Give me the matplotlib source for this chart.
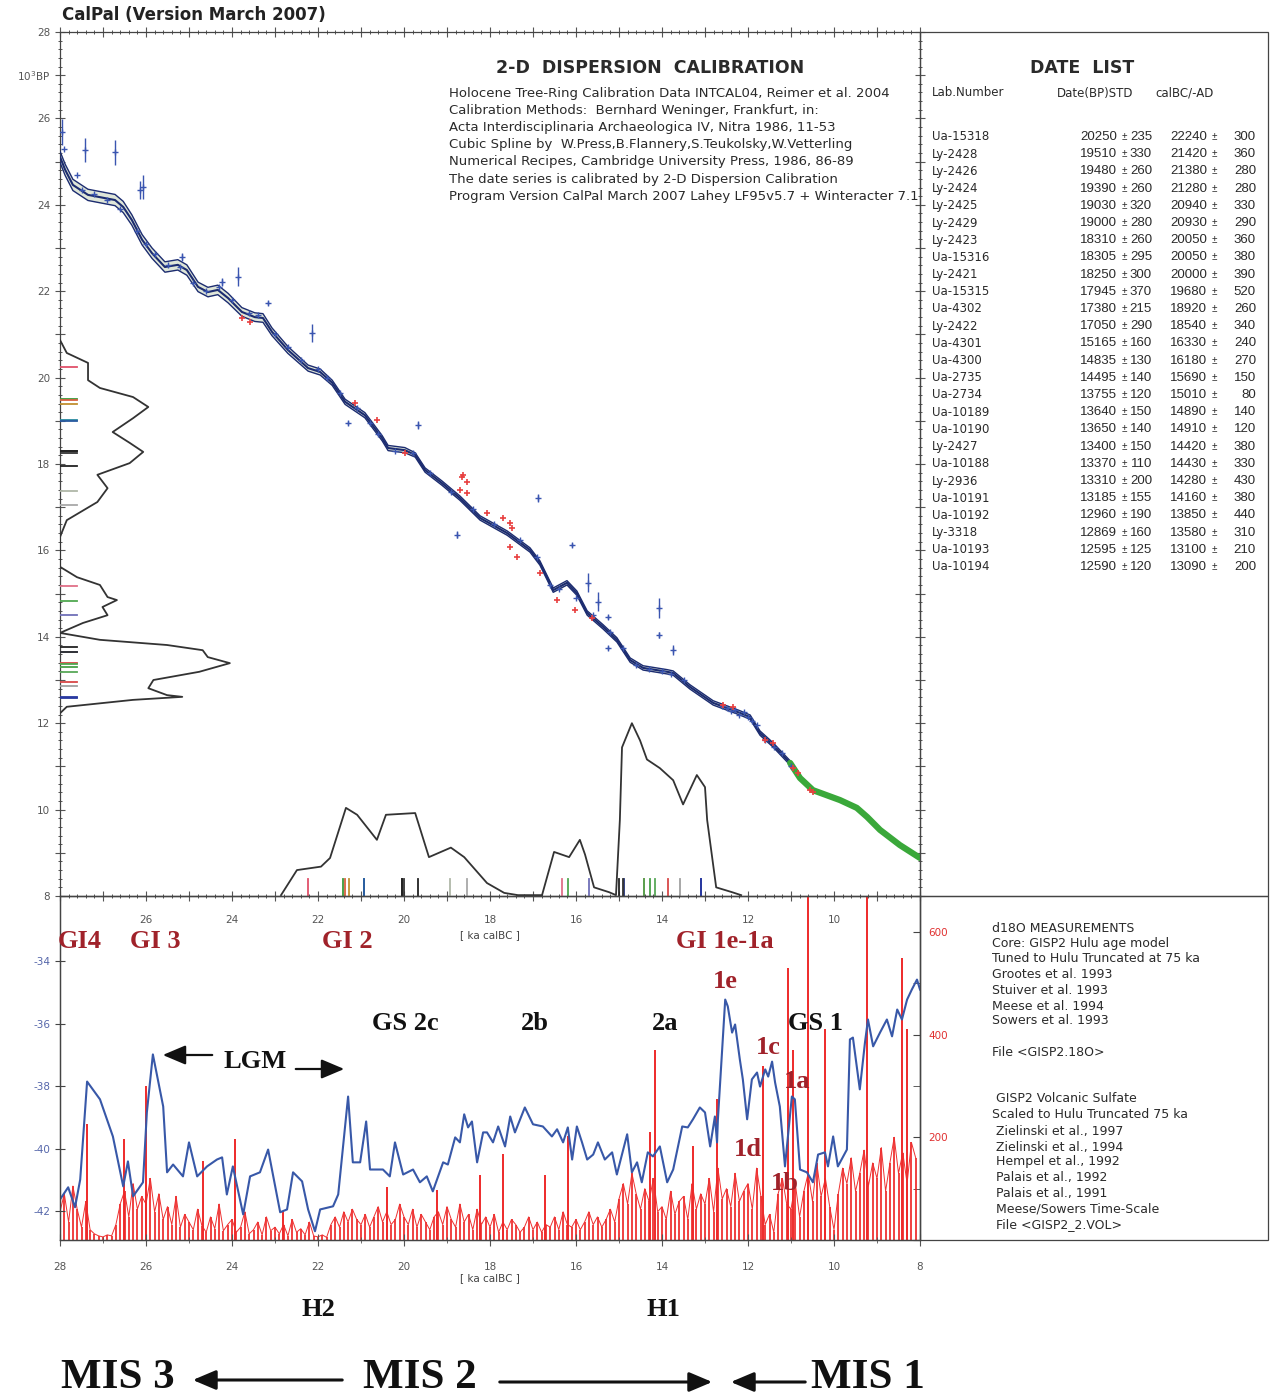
import numpy as np
import matplotlib
matplotlib.use("Agg")
import matplotlib.pyplot as plt
from matplotlib.patches import Rectangle, FancyArrowPatch
from matplotlib.ticker import MultipleLocator, FuncFormatter, FixedLocator

# ---------------- DATA ----------------
# Date list
lab_numbers = ["Ua-15318", "Ly-2428", "Ly-2426", "Ly-2424", "Ly-2425", "Ly-2429", "Ly-2423",
               "Ua-15316", "Ly-2421", "Ua-15315", "Ua-4302", "Ly-2422", "Ua-4301", "Ua-4300",
               "Ua-2735", "Ua-2734", "Ua-10189", "Ua-10190", "Ly-2427", "Ua-10188", "Ly-2936",
               "Ua-10191", "Ua-10192", "Ly-3318", "Ua-10193", "Ua-10194"]
dates_bp = [20250, 19510, 19480, 19390, 19030, 19000, 18310, 18305, 18250, 17945, 17380, 17050,
            15165, 14835, 14495, 13755, 13640, 13650, 13400, 13370, 13310, 13185, 12960, 12869,
            12595, 12590]
dates_bp_std = [235, 330, 260, 260, 320, 280, 260, 295, 300, 370, 215, 290, 160, 130, 140, 120,
                150, 140, 150, 110, 200, 155, 190, 160, 125, 120]
cal_bc = [22240, 21420, 21380, 21280, 20940, 20930, 20050, 20050, 20000, 19680, 18920, 18540,
          16330, 16180, 15690, 15010, 14890, 14910, 14420, 14430, 14280, 14160, 13850, 13580,
          13100, 13090]
cal_bc_std = [300, 360, 280, 280, 330, 290, 360, 380, 390, 520, 260, 340, 240, 270, 150, 80,
              140, 120, 380, 330, 430, 380, 440, 310, 210, 200]
sample_colors = ["#e0506a", "#3a9a3a", "#d86040", "#c09030", "#2a8aa0", "#2a5aa0", "#222222",
                 "#222222", "#333333", "#222222", "#b0b8a8", "#a8a8a8", "#e07088", "#50a850",
                 "#7070b8", "#222222", "#25357a", "#333333", "#d84848", "#50a850", "#48a048",
                 "#58a858", "#d84848", "#a0a0a0", "#2838a0", "#2838a0"]

# Calibration curve (ka calBC, 10^3 BP, 1-sigma band)
curve_cal = [28.00, 27.88, 27.70, 27.35, 26.72, 26.53, 26.33, 26.09, 25.86, 25.56, 25.26, 25.05,
             24.79, 24.56, 24.33, 24.09, 23.77, 23.47, 23.28, 23.07, 22.70, 22.23, 21.95, 21.67,
             21.37, 20.91, 20.51, 20.37, 19.98, 19.74, 19.51, 19.12, 18.70, 18.23, 17.60, 17.07,
             16.84, 16.53, 16.21, 15.98, 15.74, 15.37, 15.05, 14.74, 14.44, 13.88, 13.74, 13.35,
             12.81, 12.19, 11.95, 11.72, 11.42, 11.02, 10.79]
curve_bp = [25.11, 24.81, 24.46, 24.23, 24.11, 23.95, 23.65, 23.19, 22.88, 22.56, 22.61, 22.49,
            22.10, 21.98, 22.03, 21.84, 21.52, 21.40, 21.38, 21.06, 20.64, 20.22, 20.13, 19.88,
            19.44, 19.13, 18.60, 18.37, 18.32, 18.21, 17.86, 17.56, 17.21, 16.75, 16.40, 16.01,
            15.71, 15.08, 15.25, 15.01, 14.55, 14.23, 13.93, 13.46, 13.28, 13.19, 13.16, 12.84,
            12.47, 12.24, 12.14, 11.77, 11.50, 11.08, 10.73]
curve_sigma = [0.13, 0.13, 0.13, 0.13, 0.13, 0.13, 0.12, 0.12, 0.12, 0.12, 0.12, 0.12, 0.11,
               0.11, 0.11, 0.11, 0.10, 0.10, 0.10, 0.09, 0.08, 0.07, 0.07, 0.06, 0.06, 0.06,
               0.06, 0.06, 0.06, 0.05, 0.05, 0.05, 0.05, 0.05, 0.05, 0.05, 0.05, 0.05, 0.05,
               0.05, 0.05, 0.05, 0.05, 0.05, 0.05, 0.05, 0.05, 0.05, 0.05, 0.05, 0.05, 0.05,
               0.05, 0.05, 0.05]
# INTCAL04 tree-ring part (green)
intcal_cal = [11.02, 10.79, 10.49, 9.86, 9.47, 9.23, 8.93, 8.47, 8.00]
intcal_bp = [11.08, 10.73, 10.45, 10.22, 10.04, 9.83, 9.53, 9.18, 8.88]

# Calibration data points with error bars (blue)
blue_err_cal = [27.95, 27.42, 26.72, 26.07, 26.14, 25.16, 23.86, 23.16, 22.14, 21.30, 19.67,
                16.88, 18.77, 16.09, 15.72, 15.49, 14.07, 14.07, 13.74, 15.26, 15.26, 24.23]
blue_err_bp = [25.69, 25.27, 25.22, 24.41, 24.34, 22.79, 22.33, 21.73, 21.03, 18.95, 18.90,
               17.21, 16.36, 16.13, 15.25, 14.81, 14.67, 14.04, 13.69, 14.46, 13.74, 22.21]
blue_err_sd = [0.30, 0.28, 0.29, 0.27, 0.20, 0.10, 0.22, 0.05, 0.20, 0.05, 0.10, 0.10, 0.08,
               0.05, 0.22, 0.22, 0.23, 0.06, 0.12, 0.05, 0.05, 0.10]
# Calibration data points near the curve (blue)
blue_cal = [27.9, 27.6, 27.5, 27.2, 26.9, 26.6, 26.2, 26.0, 25.8, 25.5, 25.2, 24.9, 24.6, 24.3,
            24.0, 23.6, 23.4, 23.0, 22.7, 22.4, 22.0, 21.8, 21.5, 21.1, 20.8, 20.6, 20.2, 19.8,
            19.4, 18.9, 18.4, 17.9, 17.3, 16.9, 16.6, 16.4, 16.0, 15.6, 15.2, 14.9, 14.6, 14.3,
            14.0, 13.8, 13.5, 12.6, 12.5, 12.4, 12.3, 12.2, 12.1, 12.0, 11.9, 11.8, 11.6, 11.4,
            11.2, 11.0]
blue_bp = [25.30, 24.70, 24.35, 24.25, 24.10, 23.90, 23.40, 23.10, 22.85, 22.60, 22.55, 22.20,
           22.00, 22.10, 21.80, 21.50, 21.45, 21.00, 20.70, 20.40, 20.20, 20.00, 19.65, 19.30,
           18.95, 18.70, 18.30, 18.25, 17.80, 17.35, 16.95, 16.60, 16.25, 15.85, 15.20, 15.10,
           14.90, 14.50, 14.10, 13.75, 13.35, 13.25, 13.20, 13.15, 13.00, 12.40, 12.35, 12.28,
           12.30, 12.20, 12.25, 12.15, 12.05, 11.95, 11.60, 11.45, 11.30, 11.00]
# Calibration data points (red)
red_cal = [23.77, 23.58, 21.14, 20.63, 19.98, 18.65, 18.63, 18.53, 18.70, 18.53, 18.07, 17.70,
           17.53, 17.49, 17.53, 17.37, 16.84, 16.44, 16.02, 15.63, 12.58, 12.35, 11.60, 11.42,
           10.95, 10.84, 10.56, 10.49]
red_bp = [21.38, 21.29, 19.41, 19.02, 18.25, 17.70, 17.75, 17.58, 17.40, 17.33, 16.87, 16.75,
          16.63, 16.52, 16.08, 15.85, 15.48, 14.85, 14.62, 14.44, 12.42, 12.38, 11.61, 11.54,
          10.96, 10.85, 10.45, 10.41]

# Summed probability of 14C dates (left, relative)
bp_density_y = [20.87, 20.57, 20.34, 19.94, 19.76, 19.55, 19.32, 19.06, 18.74, 18.49, 18.28,
                18.02, 17.75, 17.44, 17.12, 16.70, 16.31, 15.62, 15.38, 15.20, 14.92, 14.85,
                14.69, 14.50, 14.32, 14.09, 13.93, 13.81, 13.69, 13.53, 13.39, 13.19, 13.00,
                12.81, 12.65, 12.61, 12.54, 12.38, 12.23]
bp_density = [0.0, 0.04, 0.165, 0.165, 0.235, 0.43, 0.52, 0.43, 0.31, 0.41, 0.49, 0.41, 0.22,
              0.28, 0.22, 0.04, 0.0, 0.0, 0.10, 0.235, 0.28, 0.335, 0.25, 0.28, 0.135, 0.0,
              0.235, 0.63, 0.84, 0.87, 1.0, 0.82, 0.55, 0.52, 0.63, 0.72, 0.43, 0.04, 0.0]
# Summed calibrated probability (bottom, relative)
cal_density_x = [22.86, 22.49, 21.93, 21.72, 21.35, 21.09, 20.63, 20.42, 19.74, 19.42, 18.91,
                 18.60, 18.07, 17.67, 17.35, 16.79, 16.51, 16.16, 15.91, 15.79, 15.58, 15.23,
                 15.07, 14.98, 14.93, 14.70, 14.51, 14.35, 14.05, 13.74, 13.51, 13.19, 13.00,
                 12.95, 12.74, 12.37, 12.16]
cal_density = [0.005, 0.15, 0.17, 0.22, 0.51, 0.47, 0.325, 0.47, 0.48, 0.225, 0.28, 0.225,
               0.075, 0.018, 0.005, 0.005, 0.255, 0.225, 0.325, 0.24, 0.05, 0.022, 0.005, 0.44,
               0.86, 1.0, 0.90, 0.79, 0.74, 0.67, 0.53, 0.70, 0.63, 0.44, 0.05, 0.022, 0.005]

# GISP2 d18O (ka calBC, permil)
d18o_age = [28.00, 27.81, 27.65, 27.53, 27.37, 27.07, 26.77, 26.53, 26.42, 26.30, 26.07, 25.98,
            25.84, 25.60, 25.51, 25.37, 25.14, 25.00, 24.81, 24.58, 24.35, 24.23, 24.12, 23.98,
            23.74, 23.58, 23.35, 23.16, 22.88, 22.72, 22.58, 22.37, 22.23, 22.07, 21.95, 21.65,
            21.53, 21.30, 21.19, 21.02, 20.88, 20.79, 20.49, 20.33, 20.21, 20.02, 19.79, 19.63,
            19.47, 19.33, 19.09, 18.98, 18.81, 18.70, 18.60, 18.51, 18.42, 18.30, 18.16, 18.07,
            17.93, 17.81, 17.65, 17.53, 17.42, 17.19, 17.00, 16.77, 16.56, 16.44, 16.30, 16.19,
            16.09, 15.98, 15.86, 15.74, 15.60, 15.49, 15.33, 15.16, 15.05, 14.81, 14.70, 14.58,
            14.47, 14.33, 14.21, 14.05, 13.88, 13.74, 13.53, 13.40, 13.28, 13.12, 13.00, 12.88,
            12.77, 12.72, 12.70, 12.53, 12.47, 12.37, 12.30, 12.19, 12.12, 12.02, 11.91, 11.79,
            11.72, 11.60, 11.53, 11.44, 11.37, 11.26, 11.14, 10.98, 10.91, 10.79, 10.63, 10.49,
            10.37, 10.21, 10.14, 10.02, 9.91, 9.70, 9.63, 9.56, 9.40, 9.28, 9.21, 9.09, 8.93,
            8.77, 8.65, 8.53, 8.42, 8.30, 8.19, 8.07, 8.00]
d18o_val = [-41.63, -41.24, -41.88, -40.99, -37.85, -38.42, -39.61, -41.21, -40.41, -41.53,
            -41.08, -38.84, -36.98, -38.65, -40.76, -40.51, -40.89, -39.80, -40.89, -40.57,
            -40.35, -40.28, -41.47, -40.57, -42.11, -40.89, -40.76, -40.03, -42.04, -41.95,
            -40.76, -41.05, -41.95, -42.65, -41.95, -41.85, -41.47, -38.33, -40.44, -40.44,
            -39.13, -40.67, -40.67, -40.89, -39.80, -40.83, -40.67, -41.08, -40.89, -41.37,
            -40.44, -40.51, -39.64, -39.80, -38.90, -39.32, -39.13, -40.44, -39.48, -39.48,
            -39.80, -39.29, -39.93, -38.97, -39.48, -38.68, -39.22, -39.29, -39.61, -39.38,
            -39.80, -39.32, -40.35, -39.29, -39.80, -40.35, -40.19, -39.80, -40.35, -40.12,
            -40.83, -39.54, -40.76, -40.44, -41.08, -40.12, -40.25, -39.93, -41.08, -40.67,
            -39.29, -39.32, -39.06, -38.68, -38.84, -39.93, -38.97, -39.80, -39.06, -35.22,
            -35.44, -36.28, -36.02, -37.14, -37.78, -39.06, -37.78, -37.56, -38.01, -37.46,
            -37.69, -37.21, -37.88, -38.65, -40.57, -38.33, -38.42, -40.67, -40.76, -41.08,
            -40.19, -40.12, -40.57, -39.61, -40.57, -40.03, -36.50, -36.44, -38.10, -36.60,
            -35.86, -36.72, -36.28, -35.86, -36.40, -35.54, -35.86, -35.22, -34.90, -34.58,
            -34.90]

# GISP2 volcanic sulfate: background series (28.0 -> 8.1 ka, step 0.1) and large events
sulfate_start, sulfate_step = 28.0, 0.1
sulfate_bg = [55, 90, 35, 105, 60, 25, 75, 20, 12, 8,
              6, 10, 8, 30, 70, 95, 45, 110, 60, 85,
              70, 120, 55, 90, 40, 65, 30, 85, 25, 50,
              35, 20, 60, 28, 15, 45, 22, 70, 18, 30,
              40, 15, 25, 55, 12, 20, 35, 10, 45, 18,
              25, 12, 30, 8, 40, 15, 22, 10, 35, 8,
              6, 10, 5, 30, 45, 25, 55, 35, 60, 40,
              30, 50, 25, 45, 65, 35, 55, 30, 40, 70,
              45, 30, 60, 25, 50, 35, 20, 45, 55, 30,
              65, 40, 25, 70, 35, 50, 20, 60, 30, 45,
              25, 50, 15, 35, 20, 40, 30, 15, 25, 45,
              20, 35, 15, 30, 25, 45, 20, 55, 30, 25,
              40, 20, 35, 55, 30, 45, 25, 40, 60, 35,
              80, 110, 70, 130, 90, 60, 100, 75, 120, 55,
              65, 40, 95, 50, 75, 85, 40, 110, 60, 90,
              70, 120, 55, 140, 80, 100, 65, 130, 75, 95,
              110, 60, 140, 85, 30, 50, 15, 90, 120, 70,
              60, 110, 45, 95, 130, 75, 150, 85, 120, 65,
              20, 90, 140, 110, 160, 95, 130, 175, 105, 150,
              120, 180, 95, 150, 200, 130, 170, 110, 190, 160]
sulfate_event_age = [27.37, 26.51, 26.00, 24.67, 23.93, 22.81, 20.40, 19.23, 18.23, 17.69,
                     16.72, 16.19, 14.28, 14.16, 13.28, 12.72, 11.65, 11.07, 10.95, 10.60,
                     10.21, 9.23, 8.42, 8.30]
sulfate_event_val = [226, 197, 300, 153, 197, 56, 104, 97, 126, 168, 126, 203, 211, 371, 184,
                     274, 338, 529, 371, 700, 410, 700, 549, 410]

# ---------------- FIGURE ----------------
W, H = 1271, 1395
fig = plt.figure(figsize=(W / 100, H / 100), dpi=100)
fx = lambda px: px / W
fy = lambda py: 1 - py / H

SANS = "DejaVu Sans"
NUM = "Liberation Sans"
SERIF = "Liberation Serif"
TXT = "#2a2a2a"
TICKC = "#555555"

ax1 = fig.add_axes([fx(60), fy(896), fx(920) - fx(60), fy(32) - fy(896)])
ax2 = fig.add_axes([fx(60), fy(1240), fx(920) - fx(60), fy(896) - fy(1240)])
ax2r = ax2.twinx()

# ---- top panel ----
ax1.set_xlim(28, 8)
ax1.set_ylim(8, 28)
cc = np.array(curve_cal)
cb = np.array(curve_bp)
cs = np.array(curve_sigma)
band_col = "#1c2c70"
ax1.fill_between(cc, cb - cs, cb + cs, color="#dfe6d8", lw=0, zorder=2)
for off, lw in [(-1, 1.0), (0, 1.5), (1, 1.0)]:
    ax1.plot(cc, cb + off * cs, color=band_col, lw=lw, zorder=3)
ax1.plot(intcal_cal, intcal_bp, color="#3aa83a", lw=4.5, solid_capstyle="round", zorder=3)

ax1.errorbar(blue_err_cal, blue_err_bp, yerr=blue_err_sd, fmt="+", color="#3a55b0",
             ms=4, mew=1.0, elinewidth=1.0, capsize=0, zorder=4)
ax1.plot(blue_cal, blue_bp, "+", color="#3a55b0", ms=4, mew=1.0, zorder=4)
ax1.plot(red_cal, red_bp, "+", color="#e84040", ms=4, mew=1.2, zorder=4)

# left density (14C) and date ticks
left_scale = 3.95
ax1.plot(28 - left_scale * np.array(bp_density), bp_density_y, color="#333333", lw=1.3, zorder=3)
for d, c in zip(dates_bp, sample_colors):
    ax1.plot([28, 27.6], [d / 1000, d / 1000], color=c, lw=1.3, zorder=3)
# bottom density (calibrated) and date ticks
bottom_scale = 4.0
ax1.plot(cal_density_x, 8 + bottom_scale * np.array(cal_density), color="#333333", lw=1.3,
         zorder=3)
for d, c in zip(cal_bc, sample_colors):
    ax1.plot([d / 1000, d / 1000], [8, 8.4], color=c, lw=1.3, zorder=3)

ax1.xaxis.set_major_locator(MultipleLocator(1))
ax1.xaxis.set_minor_locator(MultipleLocator(0.2))
ax1.yaxis.set_major_locator(MultipleLocator(1))
ax1.yaxis.set_minor_locator(MultipleLocator(0.2))
ax1.xaxis.set_major_formatter(FuncFormatter(
    lambda v, p: "%d" % v if round(v) % 2 == 0 and 8 < v < 28 else ""))
ax1.yaxis.set_major_formatter(FuncFormatter(
    lambda v, p: "%d" % v if round(v) % 2 == 0 else ("10$^3$BP" if round(v) == 27 else "")))
ax1.tick_params(axis="both", which="both", top=True, right=True, direction="in",
                colors=TICKC, labelsize=7.5, labelcolor=TICKC)
ax1.tick_params(axis="both", which="major", length=7, width=0.8)
ax1.tick_params(axis="both", which="minor", length=3.5, width=0.7)
ax1.tick_params(axis="y", which="both", direction="inout")
ax1.tick_params(axis="x", which="both", direction="inout", pad=10)
for s in ax1.spines.values():
    s.set_color("#444444")
    s.set_linewidth(0.9)

# ---- bottom panel ----
ax2.set_xlim(28, 8)
ax2.set_ylim(-42.93, -31.9)
ax2r.set_ylim(0, 670)
ax2.set_zorder(3)
ax2.patch.set_visible(False)

sx = sulfate_start - sulfate_step * np.arange(len(sulfate_bg))
ax2r.vlines(sx, 0, sulfate_bg, color="#ee2020", lw=1.2)
ax2r.plot(sx, sulfate_bg, color="#ee3030", lw=0.7)
ax2r.vlines(sulfate_event_age, 0, sulfate_event_val, color="#ee2a2a", lw=1.4)
ax2.plot(d18o_age, d18o_val, color="#3858a8", lw=1.5)

ax2.xaxis.set_major_locator(MultipleLocator(2))
ax2.xaxis.set_minor_locator(MultipleLocator(1))
ax2.yaxis.set_major_locator(FixedLocator([-42, -40, -38, -36, -34]))
ax2.xaxis.set_major_formatter(FuncFormatter(lambda v, p: "%d" % v))
ax2.yaxis.set_major_formatter(FuncFormatter(lambda v, p: "%d" % v))
ax2.tick_params(axis="x", which="major", direction="inout", length=8, labelsize=7.5,
                colors=TICKC, pad=12)
ax2.tick_params(axis="x", which="minor", direction="inout", length=5, colors=TICKC)
ax2.tick_params(axis="y", which="major", direction="inout", length=7, labelsize=7.5,
                colors="#444444", labelcolor="#5566aa")
ax2r.yaxis.set_major_locator(MultipleLocator(200))
ax2r.yaxis.set_minor_locator(MultipleLocator(100))
ax2r.yaxis.set_major_formatter(FuncFormatter(lambda v, p: "%d" % v if v > 0 else ""))
ax2r.tick_params(axis="y", which="both", direction="in", length=5, labelsize=7.5,
                 colors="#444444", labelcolor="#e03030", pad=6)
for a in (ax2, ax2r):
    for s in a.spines.values():
        s.set_color("#444444")
        s.set_linewidth(0.9)

# ---- boxes on the right ----
fig.add_artist(Rectangle((fx(920), fy(896)), fx(1268) - fx(920), fy(32) - fy(896),
                         transform=fig.transFigure, fill=False, ec="#444444", lw=0.9))
fig.add_artist(Rectangle((fx(920), fy(1240)), fx(1268) - fx(920), fy(896) - fy(1240),
                         transform=fig.transFigure, fill=False, ec="#444444", lw=0.9))

# ---- texts ----
def t(px, py, s, **kw):
    kw.setdefault("family", SANS)
    kw.setdefault("color", TXT)
    kw.setdefault("va", "center")
    fig.text(fx(px), fy(py), s, **kw)

t(62, 15, "CalPal (Version March 2007)", size=12, weight="bold", color="#222222")
t(650, 68, "2-D  DISPERSION  CALIBRATION", size=12.5, weight="bold", ha="center")
block = ["Holocene Tree-Ring Calibration Data INTCAL04, Reimer et al. 2004",
         "Calibration Methods:  Bernhard Weninger, Frankfurt, in:",
         "Acta Interdisciplinaria Archaeologica IV, Nitra 1986, 11-53",
         "Cubic Spline by  W.Press,B.Flannery,S.Teukolsky,W.Vetterling",
         "Numerical Recipes, Cambridge University Press, 1986, 86-89",
         "The date series is calibrated by 2-D Dispersion Calibration",
         "Program Version CalPal March 2007 Lahey LF95v5.7 + Winteracter 7.1"]
for i, line in enumerate(block):
    t(449, 93 + i * 17.2, line, size=9.5)

t(1082, 68, "DATE  LIST", size=12.5, weight="bold", ha="center")
t(932, 93, "Lab.Number", size=8.5)
t(1057, 93, "Date(BP)STD", size=8.5)
t(1155, 93, "calBC/-AD", size=8.5)
for i in range(len(lab_numbers)):
    y = 137 + i * 17.2
    t(932, y, lab_numbers[i], size=8.5)
    t(1117, y, "%d" % dates_bp[i], size=9.5, ha="right", family=NUM)
    t(1124, y, "±", size=7, ha="center", family=NUM)
    t(1152, y, "%d" % dates_bp_std[i], size=9.5, ha="right", family=NUM)
    t(1207, y, "%d" % cal_bc[i], size=9.5, ha="right", family=NUM)
    t(1214, y, "±", size=7, ha="center", family=NUM)
    t(1256, y, "%d" % cal_bc_std[i], size=9.5, ha="right", family=NUM)

right_block = [(928, "d18O MEASUREMENTS"), (944, "Core: GISP2 Hulu age model"),
               (959, "Tuned to Hulu Truncated at 75 ka"), (974, "Grootes et al. 1993"),
               (990, "Stuiver et al. 1993"), (1006, "Meese et al. 1994"),
               (1021, "Sowers et al. 1993"), (1052, "File <GISP2.18O>"),
               (1099, " GISP2 Volcanic Sulfate"), (1115, "Scaled to Hulu Truncated 75 ka"),
               (1131, " Zielinski et al., 1997"), (1147, " Zielinski et al., 1994"),
               (1162, " Hempel et al., 1992"), (1178, " Palais et al., 1992"),
               (1194, " Palais et al., 1991"), (1209, " Meese/Sowers Time-Scale"),
               (1225, " File <GISP2_2.VOL>")]
for y, s in right_block:
    t(992, y, s, size=9)

t(490, 935, "[ ka calBC ]", size=7.5, ha="center", color="#444444")
t(490, 1278, "[ ka calBC ]", size=7.5, ha="center", color="#444444")

DR = "#a0222a"
for x, y, s in [(80, 942, "GI4"), (155, 942, "GI 3"), (347, 942, "GI 2"),
                (725, 942, "GI 1e-1a"), (725, 981, "1e"), (768, 1048, "1c"),
                (797, 1082, "1a"), (748, 1149, "1d"), (785, 1183, "1b")]:
    t(x, y, s, family=SERIF, weight="bold", size=19, color=DR, ha="center")
for x, y, s in [(405, 1024, "GS 2c"), (535, 1024, "2b"), (665, 1024, "2a"),
                (815, 1024, "GS 1"), (255, 1062, "LGM"), (318, 1310, "H2"), (663, 1310, "H1")]:
    t(x, y, s, family=SERIF, weight="bold", size=19, color="#111111", ha="center")
for x, y, s in [(118, 1378, "MIS 3"), (420, 1378, "MIS 2"), (868, 1378, "MIS 1")]:
    t(x, y, s, family=SERIF, weight="bold", size=31, color="#111111", ha="center")


def arrow(x0, y0, x1, y1, lw=1.6, hw=6):
    fig.add_artist(FancyArrowPatch(
        (fx(x0), fy(y0)), (fx(x1), fy(y1)), transform=fig.transFigure,
        arrowstyle="-|>,head_length=%g,head_width=%g" % (hw * 1.3, hw * 0.55),
        color="#111111", lw=lw, mutation_scale=1.8))


arrow(215, 1055, 160, 1055)
arrow(293, 1069, 347, 1069)
arrow(345, 1380, 190, 1380, lw=2.2)
arrow(497, 1382, 715, 1382, lw=2.2)
arrow(808, 1382, 728, 1382, lw=2.2)

fig.savefig("out.png", dpi=100, facecolor="white")
